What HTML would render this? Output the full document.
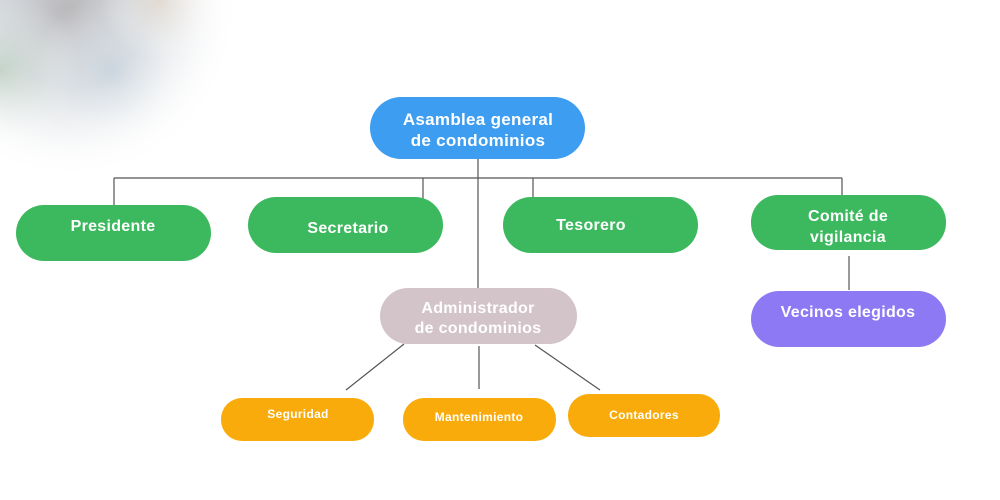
<!DOCTYPE html>
<html><head><meta charset="utf-8"><style>
html,body{margin:0;padding:0;background:#fff}
svg{display:block}
text{font-family:"Liberation Sans",sans-serif;font-weight:bold;fill:#fff;text-anchor:middle;letter-spacing:0.3px}
</style></head><body>
<svg width="1000" height="500" viewBox="0 0 1000 500" xmlns="http://www.w3.org/2000/svg">
<defs>
<radialGradient id="g1" gradientUnits="userSpaceOnUse" cx="70" cy="10" r="170"><stop offset="0" stop-color="#b9b8bb"/><stop offset="0.45" stop-color="#c8ced4" stop-opacity="0.8"/><stop offset="1" stop-color="#fff" stop-opacity="0"/></radialGradient>
<radialGradient id="g2" gradientUnits="userSpaceOnUse" cx="0" cy="70" r="80"><stop offset="0" stop-color="#b8cdbd" stop-opacity="0.7"/><stop offset="1" stop-color="#fff" stop-opacity="0"/></radialGradient>
<radialGradient id="g3" gradientUnits="userSpaceOnUse" cx="110" cy="70" r="75"><stop offset="0" stop-color="#c7d4df" stop-opacity="0.7"/><stop offset="1" stop-color="#fff" stop-opacity="0"/></radialGradient>
<radialGradient id="g4" gradientUnits="userSpaceOnUse" cx="160" cy="0" r="60"><stop offset="0" stop-color="#e3d6c9" stop-opacity="0.7"/><stop offset="1" stop-color="#fff" stop-opacity="0"/></radialGradient>
</defs>
<rect width="1000" height="500" fill="#fff"/>
<rect width="300" height="200" fill="url(#g1)"/>
<rect width="300" height="200" fill="url(#g2)"/>
<rect width="300" height="200" fill="url(#g3)"/>
<rect width="300" height="200" fill="url(#g4)"/>
<g stroke="#555" stroke-width="1.2" fill="none">
<path d="M114 178H842"/>
<path d="M114 178V205M423 178V205M533 178V200M842 178V198"/>
<path d="M478 159V288"/>
<path d="M849 256V290"/>
<path d="M404 344L346 390M479 346V389M535 345L600 390"/>
</g>
<rect x="370" y="97" width="215" height="62" rx="31" fill="#3d9df0"/>
<text x="478" y="125" font-size="17">Asamblea general</text>
<text x="478" y="146" font-size="17">de condominios</text>
<g fill="#3cb95e">
<rect x="16" y="205" width="195" height="56" rx="28"/>
<rect x="248" y="197" width="195" height="56" rx="28"/>
<rect x="503" y="197" width="195" height="56" rx="28"/>
<rect x="751" y="195" width="195" height="55" rx="27"/>
</g>
<text x="113" y="231" font-size="16">Presidente</text>
<text x="348" y="233" font-size="16">Secretario</text>
<text x="591" y="230" font-size="16">Tesorero</text>
<text x="848" y="221" font-size="16">Comité de</text>
<text x="848" y="242" font-size="16">vigilancia</text>
<rect x="751" y="291" width="195" height="56" rx="28" fill="#8d79f4"/>
<text x="848" y="317" font-size="16">Vecinos elegidos</text>
<rect x="380" y="288" width="197" height="56" rx="28" fill="#d3c4c9"/>
<text x="478" y="313" font-size="16">Administrador</text>
<text x="478" y="333" font-size="16">de condominios</text>
<g fill="#f9ab0b">
<rect x="221" y="398" width="153" height="43" rx="21"/>
<rect x="403" y="398" width="153" height="43" rx="21"/>
<rect x="568" y="394" width="152" height="43" rx="21"/>
</g>
<text x="298" y="418" font-size="12">Seguridad</text>
<text x="479" y="421" font-size="12">Mantenimiento</text>
<text x="644" y="419" font-size="12">Contadores</text>
</svg>
</body></html>
